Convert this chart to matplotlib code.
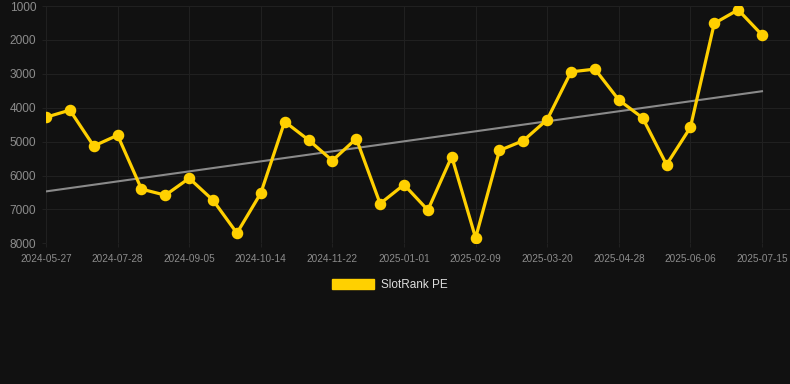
import numpy as np
import matplotlib
matplotlib.use("Agg")
import matplotlib.pyplot as plt
from matplotlib.patches import Patch

plt.rcParams['font.family'] = ['Liberation Sans', 'DejaVu Sans']

# Data (rank values, lower is better -> inverted axis)
values = [4280, 4070, 5130, 4810, 6400, 6580, 6080, 6730, 7700, 6520,
          4410, 4950, 5560, 4910, 6830, 6270, 7020, 5440, 7840, 5260,
          4970, 4350, 2940, 2860, 3770, 4300, 5680, 4580, 1510, 1110, 1850]
tick_labels = ["2024-05-27", "2024-07-28", "2024-09-05", "2024-10-14",
               "2024-11-22", "2025-01-01", "2025-02-09", "2025-03-20",
               "2025-04-28", "2025-06-06", "2025-07-15"]
y_ticks = [1000, 2000, 3000, 4000, 5000, 6000, 7000, 8000]
series_name = "SlotRank PE"

bg = "#111111"
gold = "#FFD000"

fig = plt.figure(figsize=(7.9, 3.84), dpi=100, facecolor=bg)
W, H = 790, 384
ax = fig.add_axes([46 / W, 1 - 243.3 / H, (790 - 46) / W, (243.3 - 6.1) / H])
ax.set_facecolor(bg)

x = np.arange(len(values))
ax.plot(x, values, color=gold, lw=2.3, marker="o", markersize=7.3,
        markerfacecolor=gold, markeredgecolor=gold, zorder=3, solid_joinstyle="round")

# linear trend
coef = np.polyfit(x, values, 1)
xt = np.array([x[0], x[-1]])
ax.plot(xt, np.polyval(coef, xt), color="#8a8a8a", lw=1.5, zorder=2)

step = 3
ax.set_xticks(x[::step][:len(tick_labels)])
ax.set_xticklabels(tick_labels)
ax.set_yticks(y_ticks)
ax.set_yticklabels([str(v) for v in y_ticks])
ax.set_ylim(8000, 1000)
ax.set_xlim(0, (790 - 46) / ((762 - 46) / 30))

ax.grid(True, color="#202020", lw=0.8)
for s in ax.spines.values():
    s.set_visible(False)
ax.tick_params(axis="y", colors="#202020", length=3, labelcolor="#8c8c8c",
               labelsize=8.6, pad=4)
ax.tick_params(axis="x", colors="#202020", length=3, labelcolor="#8c8c8c",
               labelsize=7.2, pad=5)

handle = Patch(facecolor=gold, edgecolor=gold)
leg = fig.legend([handle], [series_name], loc="center", bbox_to_anchor=(390 / W, 1 - 285 / H),
                 frameon=False, handlelength=3.6, handleheight=0.95, fontsize=8.5,
                 labelcolor="#dddddd", handletextpad=0.6)

fig.savefig("out.png", dpi=100, facecolor=bg)
